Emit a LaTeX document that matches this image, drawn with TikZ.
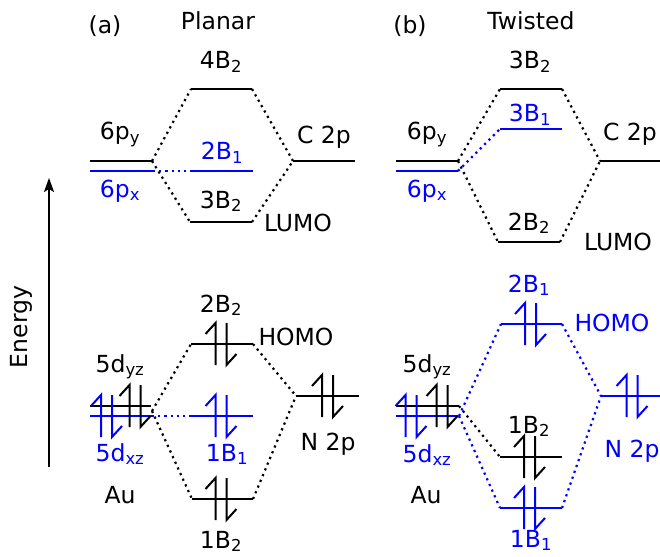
\documentclass[tikz,border=0pt]{standalone}
\usepackage{fontspec}
\setmainfont{DejaVu Sans}
\usetikzlibrary{arrows.meta}
\tikzset{
  lvl/.style={line width=2.2pt},
  mix/.style={line width=2.2pt, dash pattern=on 2.2pt off 4pt},
  lab/.style={anchor=base, inner sep=0pt, font=\fontsize{23.5}{28}\selectfont},
  spin/.style={line width=2pt},
}
\newcommand{\epair}[2][black]{%
  \draw[spin,#1] ([shift={(-5.5,21)}]#2) -- ++(0,-42) -- ++(-10,11);
  \draw[spin,#1] ([shift={(5.5,-21)}]#2) -- ++(0,42) -- ++(10,-11);
}

\begin{document}
\begin{tikzpicture}[x=1pt,y=-1pt]
\useasboundingbox (0,0) rectangle (660,556);
% energy axis
\coordinate (e0) at (49,467);
\coordinate (e1) at (49,178);
\draw[line width=1.6pt,-{Stealth[length=14pt,width=10pt,inset=3pt]}] (e0) -- (e1);
\node[font=\fontsize{23.5}{28}\selectfont,rotate=90] (energy) at (21,327) {Energy};
% (a) planar
\node[lab] (ta) at (105,34) {(a)};
\node[lab] (tplanar) at (218,30) {Planar};
\coordinate (ayl) at (90,161);
\coordinate (ayr) at (152,161);
\coordinate (axl) at (90,171);
\coordinate (axr) at (153,171);
\coordinate (a4l) at (191,89);
\coordinate (a4r) at (252,89);
\coordinate (a2b1l) at (190,171);
\coordinate (a2b1r) at (253,171);
\coordinate (a3l) at (190,222);
\coordinate (a3r) at (252,222);
\coordinate (acl) at (293,161);
\coordinate (acr) at (355,161);
\draw[lvl] (ayl) -- (ayr);
\draw[lvl,blue] (axl) -- (axr);
\draw[lvl] (a4l) -- (a4r);
\draw[lvl,blue] (a2b1l) -- (a2b1r);
\draw[lvl] (a3l) -- (a3r);
\draw[lvl] (acl) -- (acr);
\draw[mix] (ayr) -- (a4l);
\draw[mix] (ayr) -- (a3l);
\draw[mix] (a4r) -- (acl);
\draw[mix] (a3r) -- (acl);
\draw[mix,blue] (axr) -- (a2b1l);
\node[lab] (a4lab) at (221,69) {4B\textsubscript{2}};
\node[lab] (a6py) at (120,140) {6p\textsubscript{y}};
\node[lab,blue] (a2b1lab) at (222,160) {2B\textsubscript{1}};
\node[lab,blue] (a6px) at (120,197) {6p\textsubscript{x}};
\node[lab] (a3lab) at (221,208) {3B\textsubscript{2}};
\node[lab] (alumo) at (298,231) {LUMO};
\node[lab] (ac2p) at (324,143) {C 2p};
% (a) lower part
\coordinate (adyl) at (90,406);
\coordinate (adyr) at (151,406);
\coordinate (adxl) at (90,416);
\coordinate (adxr) at (152,416);
\coordinate (adm) at (152,411);
\coordinate (ah2l) at (191,344);
\coordinate (ah2r) at (253,344);
\coordinate (a1b1l) at (190,416);
\coordinate (a1b1r) at (253,416);
\coordinate (a1b2l) at (192,499);
\coordinate (a1b2r) at (253,499);
\coordinate (anl) at (296,396);
\coordinate (anr) at (359,396);
\draw[lvl] (adyl) -- (adyr);
\draw[lvl,blue] (adxl) -- (adxr);
\draw[lvl] (ah2l) -- (ah2r);
\draw[lvl,blue] (a1b1l) -- (a1b1r);
\draw[lvl] (a1b2l) -- (a1b2r);
\draw[lvl] (anl) -- (anr);
\draw[mix] (adm) -- (ah2l);
\draw[mix] (adm) -- (a1b2l);
\draw[mix] (ah2r) -- (anl);
\draw[mix] (a1b2r) -- (anl);
\draw[mix,blue] (adxr) -- (a1b1l);
\coordinate (pady) at (135,406);
\coordinate (padx) at (106.5,416);
\coordinate (pah2) at (221,344);
\coordinate (pa1b1) at (221,416);
\coordinate (pa1b2) at (221,499);
\coordinate (pan) at (327.5,396);
\epair{pady}
\epair[blue]{padx}
\epair{pah2}
\epair[blue]{pa1b1}
\epair{pa1b2}
\epair{pan}
\node[lab] (ah2lab) at (221,312) {2B\textsubscript{2}};
\node[lab] (ahomo) at (296,345) {HOMO};
\node[lab] (a5dyz) at (120,372) {5d\textsubscript{yz}};
\node[lab,blue] (a5dxz) at (120,461) {5d\textsubscript{xz}};
\node[lab,blue] (a1b1lab) at (227,461) {1B\textsubscript{1}};
\node[lab] (aau) at (120,503) {Au};
\node[lab] (a1b2lab) at (221,548) {1B\textsubscript{2}};
\node[lab] (an2p) at (328,450) {N 2p};
% (b) twisted
\node[lab] (tb) at (410,34) {(b)};
\node[lab] (ttwisted) at (531,30) {Twisted};
\coordinate (byl) at (396,161);
\coordinate (byr) at (458,161);
\coordinate (bxl) at (396,171);
\coordinate (bxr) at (458,171);
\coordinate (b3l) at (500,89);
\coordinate (b3r) at (562,89);
\coordinate (b3b1l) at (500,129);
\coordinate (b3b1r) at (562,129);
\coordinate (b2l) at (498,242);
\coordinate (b2r) at (560,242);
\coordinate (bcl) at (600,161);
\coordinate (bcr) at (660,161);
\draw[lvl] (byl) -- (byr);
\draw[lvl,blue] (bxl) -- (bxr);
\draw[lvl] (b3l) -- (b3r);
\draw[lvl,blue] (b3b1l) -- (b3b1r);
\draw[lvl] (b2l) -- (b2r);
\draw[lvl] (bcl) -- (bcr);
\draw[mix] (byr) -- (b3l);
\draw[mix] (byr) -- (b2l);
\draw[mix] (b3r) -- (bcl);
\draw[mix] (b2r) -- (bcl);
\draw[mix,blue] (bxr) -- (b3b1l);
\node[lab] (b3lab) at (530,69) {3B\textsubscript{2}};
\node[lab,blue] (b3b1lab) at (530,122) {3B\textsubscript{1}};
\node[lab] (b6py) at (427,140) {6p\textsubscript{y}};
\node[lab,blue] (b6px) at (427,197) {6p\textsubscript{x}};
\node[lab] (b2lab) at (529,230) {2B\textsubscript{2}};
\node[lab] (bc2p) at (630,141) {C 2p};
\node[lab] (blumo) at (618,250) {LUMO};
% (b) lower part
\coordinate (bdyl) at (396,406);
\coordinate (bdyr) at (459,406);
\coordinate (bdxl) at (396,416);
\coordinate (bdxr) at (459,416);
\coordinate (bh1l) at (501,324);
\coordinate (bh1r) at (562,324);
\coordinate (b1b2l) at (500,457);
\coordinate (b1b2r) at (562,457);
\coordinate (b1b1l) at (500,508);
\coordinate (b1b1r) at (562,508);
\coordinate (bnl) at (601,396);
\coordinate (bnr) at (660,396);
\draw[lvl] (bdyl) -- (bdyr);
\draw[lvl,blue] (bdxl) -- (bdxr);
\draw[lvl,blue] (bh1l) -- (bh1r);
\draw[lvl] (b1b2l) -- (b1b2r);
\draw[lvl,blue] (b1b1l) -- (b1b1r);
\draw[lvl,blue] (bnl) -- (bnr);
\draw[mix,blue] (bdxr) -- (bh1l);
\draw[mix,blue] (bdxr) -- (b1b1l);
\draw[mix] (bdyr) -- (b1b2l);
\draw[mix,blue] (bh1r) -- (bnl);
\draw[mix,blue] (b1b1r) -- (bnl);
\coordinate (pbdy) at (442,406);
\coordinate (pbdx) at (411,416);
\coordinate (pbh1) at (530.5,324);
\coordinate (pb1b2) at (529.5,457);
\coordinate (pb1b1) at (529.5,508);
\coordinate (pbn) at (632,396);
\epair{pbdy}
\epair[blue]{pbdx}
\epair[blue]{pbh1}
\epair{pb1b2}
\epair[blue]{pb1b1}
\epair[blue]{pbn}
\node[lab,blue] (bh1lab) at (529,292) {2B\textsubscript{1}};
\node[lab,blue] (bhomo) at (612,331) {HOMO};
\node[lab] (b5dyz) at (427,372) {5d\textsubscript{yz}};
\node[lab] (b1b2lab) at (529,433) {1B\textsubscript{2}};
\node[lab,blue] (b5dxz) at (427,462) {5d\textsubscript{xz}};
\node[lab,blue] (bn2p) at (632,457) {N 2p};
\node[lab] (bau) at (426,503) {Au};
\node[lab,blue] (b1b1lab) at (531,547) {1B\textsubscript{1}};
\end{tikzpicture}
\end{document}
